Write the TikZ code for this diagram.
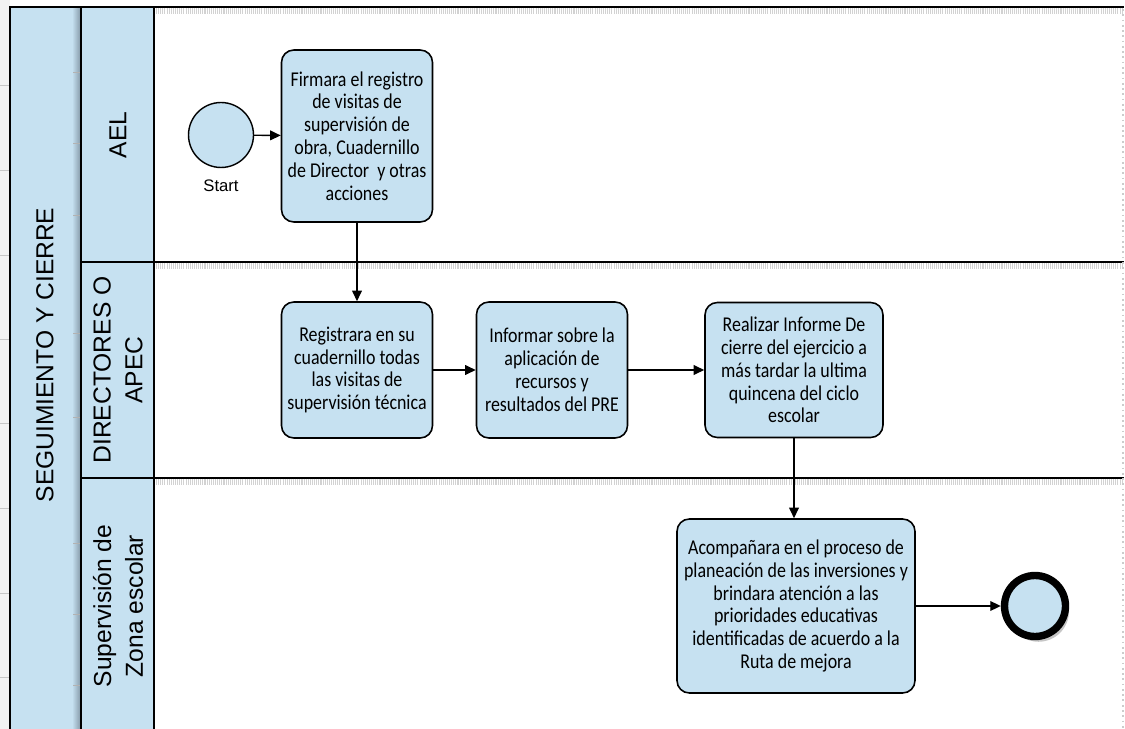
\documentclass[tikz,border=0pt]{standalone}
\usepackage{fontspec}
\setmainfont{Carlito}
\newfontfamily\boxfont[FakeStretch=0.85]{Carlito}
\newfontfamily\lanefont{Liberation Sans}
\usetikzlibrary{positioning,arrows.meta,shadows}
\definecolor{bpmnblue}{RGB}{198,225,241}
\definecolor{headshade}{RGB}{130,150,165}

\tikzset{
    task/.style={draw, line width=0.9pt, rounded corners=7pt, fill=bpmnblue,
        align=center, inner sep=2pt, font=\boxfont\fontsize{12}{13}\selectfont},
    flow/.style={-{Triangle[length=6pt,width=5.5pt]}, line width=0.8pt},
    lanelabel/.style={rotate=90, align=center, font=\lanefont\fontsize{14}{18}\selectfont},
    lanerule/.style={line width=1.4pt},
    laneshade/.style={gray!35, line width=3pt, dash pattern=on 0.6pt off 0.6pt},
}

\begin{document}
\begin{tikzpicture}[x=0.02cm, y=-0.02cm]
        \clip (0,0) rectangle (1125,729);

        % page ruler on the left
        \fill[gray!10] (0,0) rectangle (10,729);
        \draw[gray!45] (0,85) -- (10,85) (0,170) -- (10,170) (0,255) -- (10,255)
            (0,339) -- (10,339) (0,423) -- (10,423) (0,508) -- (10,508)
            (0,593) -- (10,593) (0,677) -- (10,677);

        % pool and lane headers
        \fill[bpmnblue] (10,7) rectangle (154,740);
        \shade[left color=bpmnblue, right color=headshade] (72,7) rectangle (81,740);
        \draw[gray!60] (73,72) -- (81,72) (73,143) -- (81,143) (73,215) -- (81,215)
            (73,333) -- (81,333) (73,417) -- (81,417) (73,543) -- (81,543)
            (73,614) -- (81,614) (73,685) -- (81,685);

        \draw[lanerule] (10,740) -- (10,7) -- (1124,7);
        \draw[lanerule] (81,7) -- (81,740);
        \draw[lanerule] (154,7) -- (154,740);
        \draw[lanerule] (81,262) -- (1124,262);
        \draw[lanerule] (81,478) -- (1124,478);

        \draw[laneshade] (156,11) -- (1122,11);
        \draw[laneshade] (156,266) -- (1122,266);
        \draw[laneshade] (156,482) -- (1122,482);
        \draw[gray!40, dotted, line width=1pt] (1123,9) -- (1123,729);

        % lane names
        \node[lanelabel] (pool) at (45,355) {SEGUIMIENTO Y CIERRE};
        \node[lanelabel] (laneael) at (118,135) {AEL};
        \node[lanelabel] (lanedir) at (118,370) {DIRECTORES O\\APEC};
        \node[lanelabel] (lanesup) at (118,606) {Supervisión de\\Zona escolar};

        % events and tasks
        \node[circle, draw, fill=bpmnblue, line width=0.8pt, minimum size=1.3cm] (start) at (221,135) {};
        \node[below=3pt of start, font=\lanefont\fontsize{9.5}{11}\selectfont] (startlbl) {Start};

        \node[task, minimum width=3.02cm, minimum height=3.44cm] (firma) at (357,136)
            {Firmara el registro\\de visitas de\\supervisión de\\obra, Cuadernillo\\de Director~ y otras\\acciones};
        \node[task, minimum width=3.02cm, minimum height=2.72cm] (registra) at (357,370)
            {Registrara en su\\cuadernillo todas\\las visitas de\\supervisión técnica};
        \node[task, minimum width=3.02cm, minimum height=2.72cm] (informa) at (552,370)
            {Informar sobre la\\aplicación de\\recursos y\\resultados del PRE};
        \node[task, minimum width=3.56cm, minimum height=2.7cm] (cierre) at (794,370)
            {Realizar Informe De\\cierre del ejercicio a\\más tardar la ultima\\quincena del ciclo\\escolar};
        \node[task, minimum width=4.76cm, minimum height=3.48cm] (acompana) at (796,606)
            {Acompañara en el proceso de\\planeación de las inversiones y\\brindara atención a las\\prioridades educativas\\identificadas de acuerdo a la\\Ruta de mejora};

        \node[circle, draw, fill=bpmnblue, line width=4.2pt, minimum size=1.22cm,
            drop shadow={shadow xshift=2pt, shadow yshift=-3pt, opacity=0.45}] (end) at (1035,606) {};

        % sequence flows
        \draw[flow] (start) -- (firma);
        \draw[flow] (firma) -- (registra);
        \draw[flow] (registra) -- (informa);
        \draw[flow] (informa) -- (cierre);
        \draw[flow] (cierre.south) -- (cierre.south |- acompana.north);
        \draw[flow] (acompana) -- (end);

    \end{tikzpicture}
\end{document}
